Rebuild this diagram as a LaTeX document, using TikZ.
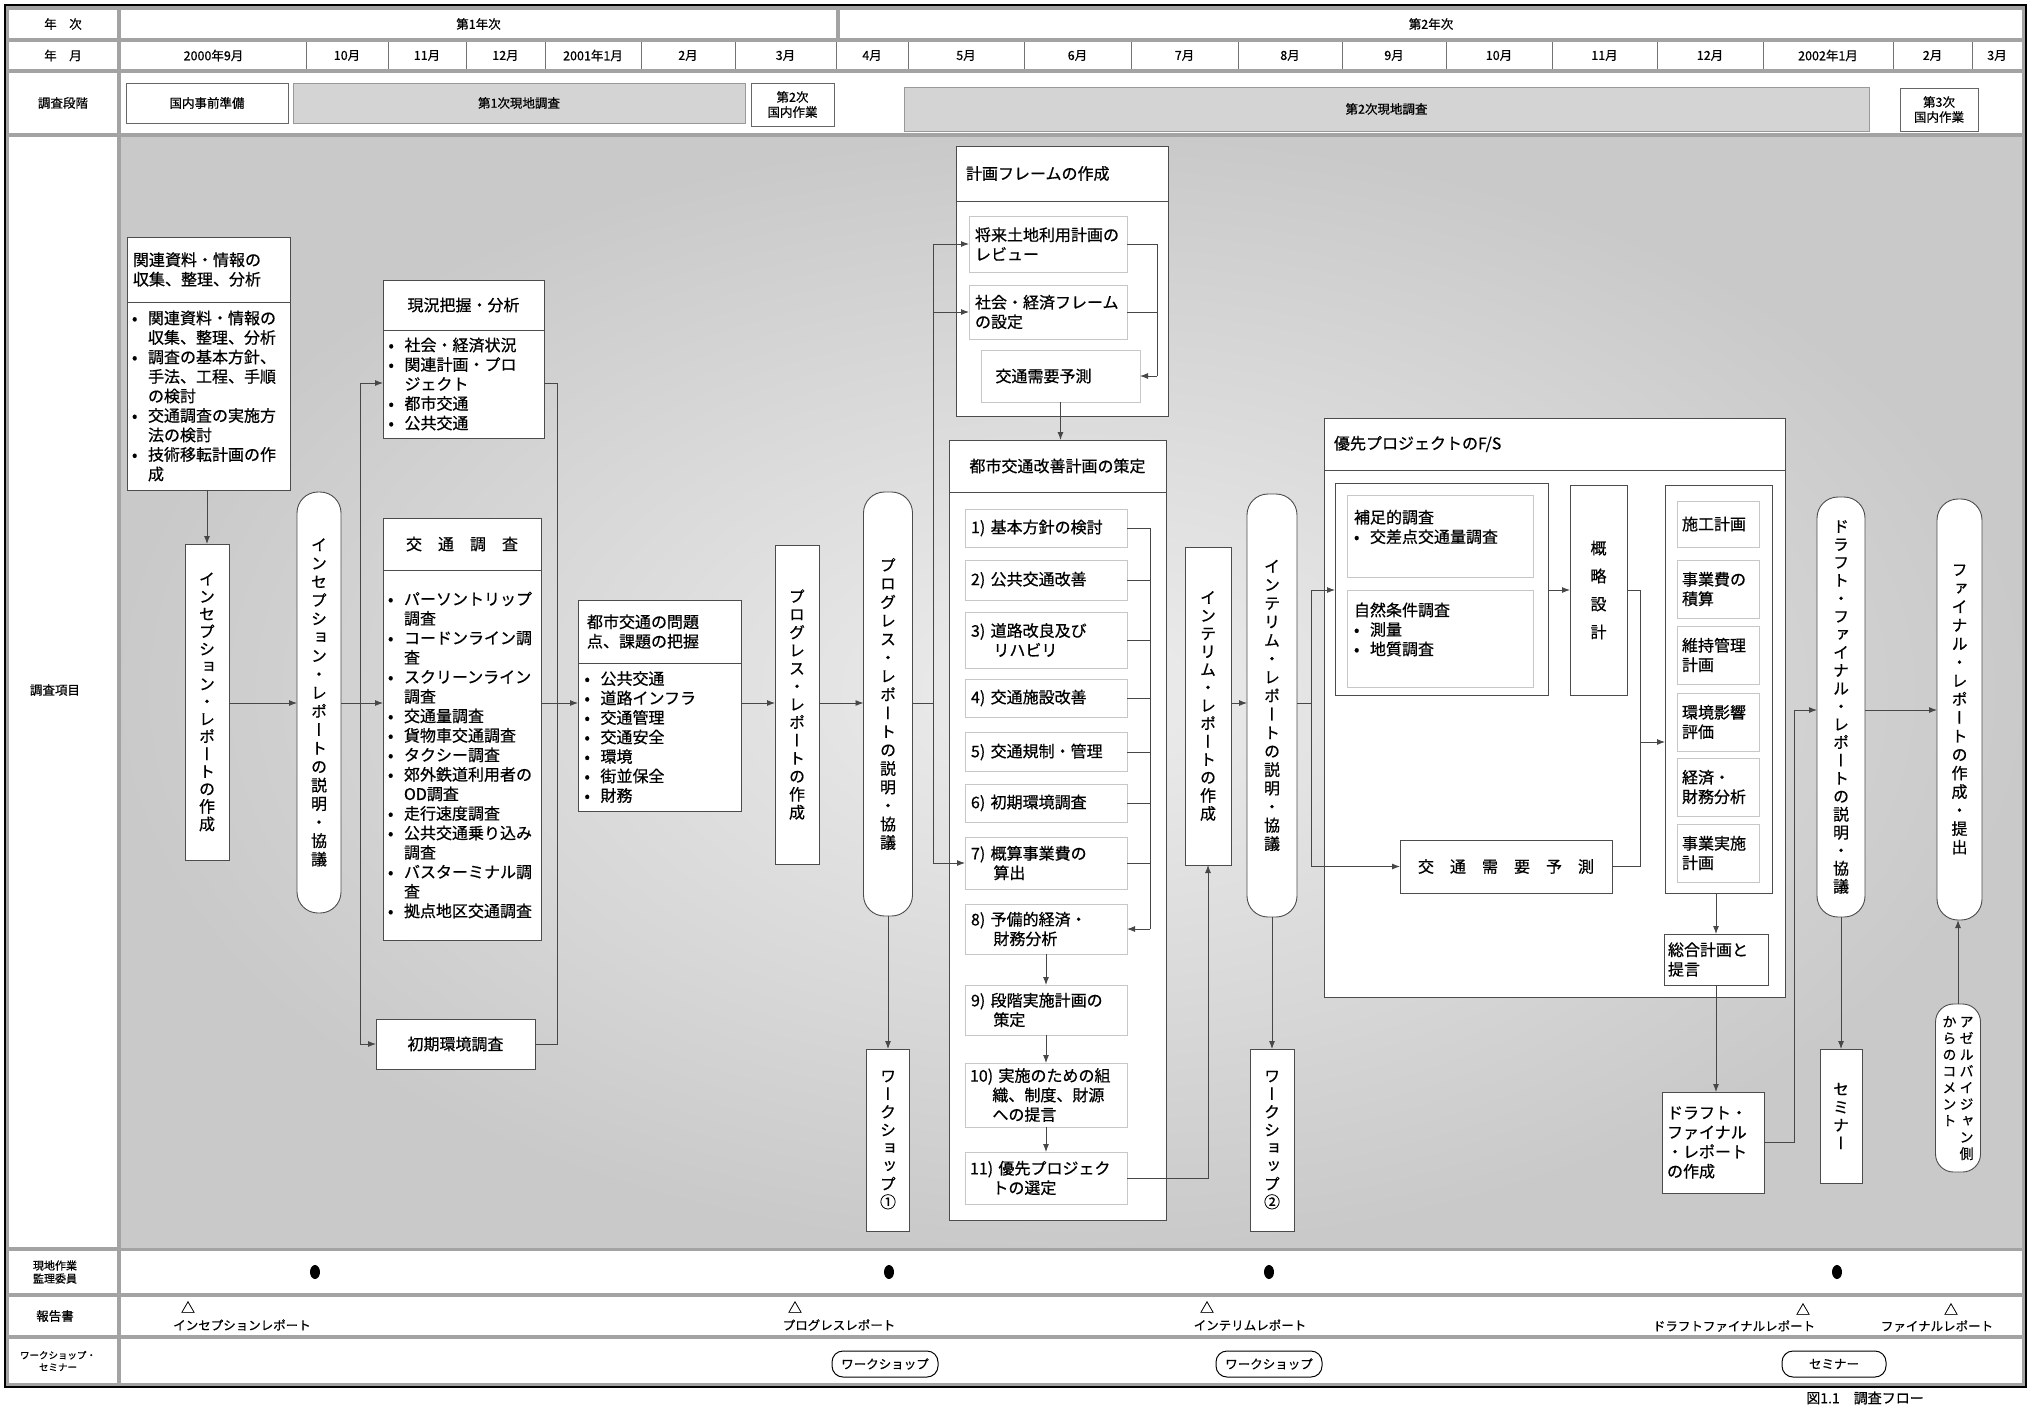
\documentclass[tikz,border=0pt]{standalone}
\usepackage{fontspec}
\setmainfont{Noto Sans CJK JP}[FakeBold=0.6]
\newfontfamily\vjp{Noto Sans CJK JP}[RawFeature=+vert,FakeBold=0.6]
\usetikzlibrary{arrows.meta,shapes.geometric}
\newcommand\fsz{\fontsize{16pt}{19.5pt}\selectfont}
\newcommand\fsm{\fontsize{12.5pt}{15pt}\selectfont}
\newcommand\fss{\fontsize{11pt}{13pt}\selectfont}
\newcommand\bl{\makebox[1em][l]{•}}
\newcommand\ind{\hspace*{1em}}
\newcommand\sind{\hspace*{1.4em}}
\makeatletter
\def\vt@aux#1{\ifx\relax#1\else\hbox to 1.15em{\hss#1\hss}\expandafter\vt@aux\fi}
\newcommand\vtxt[2][18pt]{\vtop{\vjp\baselineskip=#1\relax\lineskip=0pt\lineskiplimit=-100pt\vt@aux#2\relax}}
\makeatother
\begin{document}
\begin{tikzpicture}[x=1pt,y=-1pt,
  ln/.style={draw=black!72,line width=0.9pt},
  arr/.style={ln,-{Latex[length=8pt,width=6pt]}},
  bx/.style={draw=black!70,line width=0.9pt,fill=white,inner sep=0pt,outer sep=0pt,font=\fsz,align=left},
  sbx/.style={draw=black!22,line width=0.7pt,fill=white,inner sep=0pt,outer sep=0pt,font=\fsz,align=left},
  stad/.style={bx,rounded corners=21pt},
  lab/.style={inner sep=0pt,font=\fsm,align=center},
  phase/.style={draw=black!60,line width=0.8pt,fill=white,inner sep=0pt,font=\fsm,align=center},
  phaseg/.style={phase,draw=black!40,fill=black!17},
  dotn/.style={ellipse,fill=black,inner sep=0pt,minimum width=10pt,minimum height=14pt},
  oval/.style={draw=black,line width=1pt,rounded corners=11pt,fill=white,inner sep=0pt,minimum width=106pt,minimum height=26pt,font=\fsm}
]
\useasboundingbox (0,0) rectangle (2031,1409);
% ---------- frame and rows ----------
\fill[black!36] (5,5) rectangle (2026,1387);
\draw[black,line width=1.6pt] (5,5) rectangle (2026,1387);
\fill[white] (9,10) rectangle (117,38);
\fill[white] (9,42) rectangle (117,69);
\fill[white] (9,73) rectangle (117,133);
\fill[white] (9,137) rectangle (117,1247);
\fill[white] (9,1251) rectangle (117,1293);
\fill[white] (9,1297) rectangle (117,1335);
\fill[white] (9,1339) rectangle (117,1383);
\fill[white] (121,10) rectangle (836,38);
\fill[white] (840,10) rectangle (2022,38);
\fill[white] (121,42) rectangle (2022,69);
\fill[white] (121,73) rectangle (2022,133);
\shade[inner color=black!7,outer color=black!21] (121,137) rectangle (2022,1247);
\fill[white] (121,1251) rectangle (2022,1293);
\fill[white] (121,1297) rectangle (2022,1335);
\fill[white] (121,1339) rectangle (2022,1383);
\foreach \x in {306,388,466,545,641,735,836,908,1024,1131,1238,1342,1446,1552,1657,1763,1893,1972}
  \draw[black!55,line width=0.8pt] (\x,42) -- (\x,69);
% ---------- left labels ----------
\node[lab] (L1) at (63,24) {年　次};
\node[lab] (L2) at (63,55.5) {年　月};
\node[lab] (L3) at (63,103) {調査段階};
\node[lab] (L4) at (55,690) {調査項目};
\node[lab,font=\fss] (L5) at (55,1272) {現地作業\\監理委員};
\node[lab] (L6) at (55,1316) {報告書};
\node[lab,font=\fontsize{9.5pt}{12pt}\selectfont] (L7) at (58,1361) {ワークショップ・\\セミナー};
% ---------- header ----------
\node[lab] (y1) at (478.5,24) {第1年次};
\node[lab] (y2) at (1431,24) {第2年次};
\foreach \c/\t [count=\i] in {213.5/2000年9月,347/10月,427/11月,505.5/12月,593/2001年1月,688/2月,785.5/3月,872/4月,966/5月,1077.5/6月,1184.5/7月,1290/8月,1394/9月,1499/10月,1604.5/11月,1710/12月,1828/2002年1月,1932.5/2月,1997/3月}
  \node[lab] (m\i) at (\c,55.5) {\t};
\node[phase,minimum width=162pt,minimum height=40pt] (p1) at (207,103) {国内事前準備};
\node[phaseg,minimum width=452pt,minimum height=40pt] (p2) at (519,103) {第1次現地調査};
\node[phase,minimum width=83pt,minimum height=43pt] (p3) at (792.5,104.5) {第2次\\国内作業};
\node[phaseg,minimum width=965pt,minimum height=44pt] (p4) at (1386.5,109) {第2次現地調査};
\node[phase,minimum width=78pt,minimum height=43pt] (p5) at (1939,109.5) {第3次\\国内作業};
% ---------- main nodes ----------
\node[bx,minimum width=163pt,minimum height=65pt,text width=151pt] (b1h) at (208.5,269.5) {関連資料・情報の\\収集、整理、分析};
\node[bx,minimum width=163pt,minimum height=188pt,text width=153pt] (b1b) at (208.5,396) {\bl 関連資料・情報の\\\ind 収集、整理、分析\\\bl 調査の基本方針、\\\ind 手法、工程、手順\\\ind の検討\\\bl 交通調査の実施方\\\ind 法の検討\\\bl 技術移転計画の作\\\ind 成};
\node[bx,minimum width=44pt,minimum height=316pt] (b2) at (207,702) {\vtxt[17.5pt]{インセプション・レポートの作成}};
\node[stad,minimum width=44pt,minimum height=421pt] (b3) at (319,702.5) {\vtxt[18.5pt]{インセプション・レポートの説明・協議}};
\node[bx,minimum width=161pt,minimum height=50pt,align=center] (b4h) at (463.5,305) {現況把握・分析};
\node[bx,minimum width=161pt,minimum height=108pt,text width=150pt] (b4b) at (463.5,384) {\bl 社会・経済状況\\\bl 関連計画・プロ\\\ind ジェクト\\\bl 都市交通\\\bl 公共交通};
\node[bx,minimum width=158pt,minimum height=52pt,align=center] (b5h) at (462,544) {交　通　調　査};
\node[bx,minimum width=158pt,minimum height=370pt,text width=148pt] (b5b) at (462,755) {\bl パーソントリップ\\\ind 調査\\\bl コードンライン調\\\ind 査\\\bl スクリーンライン\\\ind 調査\\\bl 交通量調査\\\bl 貨物車交通調査\\\bl タクシー調査\\\bl 郊外鉄道利用者の\\\ind OD調査\\\bl 走行速度調査\\\bl 公共交通乗り込み\\\ind 調査\\\bl バスターミナル調\\\ind 査\\\bl 拠点地区交通調査};
\node[bx,minimum width=159pt,minimum height=50pt,align=center] (b6) at (455.5,1044) {初期環境調査};
\node[bx,minimum width=163pt,minimum height=63pt,text width=145pt] (b7h) at (659.5,631.5) {都市交通の問題\\点、課題の把握};
\node[bx,minimum width=163pt,minimum height=148pt,text width=150pt] (b7b) at (659.5,737) {\bl 公共交通\\\bl 道路インフラ\\\bl 交通管理\\\bl 交通安全\\\bl 環境\\\bl 街並保全\\\bl 財務};
\node[bx,minimum width=44pt,minimum height=319pt] (b8) at (797,704.5) {\vtxt[18pt]{プログレス・レポートの作成}};
\node[stad,minimum width=49pt,minimum height=424pt] (b9) at (888,704) {\vtxt[18.5pt]{プログレス・レポートの説明・協議}};
\node[bx,minimum width=43pt,minimum height=182pt] (b10) at (888,1140) {\vtxt[18pt]{ワークショップ①}};
% planning frame
\node[bx,minimum width=212pt,minimum height=55pt,text width=192pt] (b11h) at (1062,173.5) {計画フレームの作成};
\node[bx,minimum width=212pt,minimum height=215pt] (b11b) at (1062,308.5) {};
\node[sbx,minimum width=158pt,minimum height=56pt,text width=146pt] (fa) at (1048,244) {将来土地利用計画の\\レビュー};
\node[sbx,minimum width=158pt,minimum height=54pt,text width=146pt] (fb) at (1048,312) {社会・経済フレーム\\の設定};
\node[sbx,minimum width=159pt,minimum height=52pt,text width=130pt] (fc) at (1060.5,376) {交通需要予測};
% urban transport improvement plan
\node[bx,minimum width=217pt,minimum height=52pt,align=center] (b12h) at (1057.5,466) {都市交通改善計画の策定};
\node[bx,minimum width=217pt,minimum height=728pt] (b12b) at (1057.5,856) {};
\node[sbx,minimum width=162pt,minimum height=38pt,text width=150pt] (s1) at (1046,528) {1) 基本方針の検討};
\node[sbx,minimum width=162pt,minimum height=40pt,text width=150pt] (s2) at (1046,580) {2) 公共交通改善};
\node[sbx,minimum width=162pt,minimum height=56pt,text width=150pt] (s3) at (1046,640) {3) 道路改良及び\\\sind リハビリ};
\node[sbx,minimum width=162pt,minimum height=38pt,text width=150pt] (s4) at (1046,698) {4) 交通施設改善};
\node[sbx,minimum width=162pt,minimum height=39pt,text width=150pt] (s5) at (1046,752) {5) 交通規制・管理};
\node[sbx,minimum width=162pt,minimum height=38pt,text width=150pt] (s6) at (1046,803) {6) 初期環境調査};
\node[sbx,minimum width=162pt,minimum height=52pt,text width=150pt] (s7) at (1046,863) {7) 概算事業費の\\\sind 算出};
\node[sbx,minimum width=162pt,minimum height=50pt,text width=150pt] (s8) at (1046,929) {8) 予備的経済・\\\sind 財務分析};
\node[sbx,minimum width=162pt,minimum height=50pt,text width=150pt] (s9) at (1046,1010) {9) 段階実施計画の\\\sind 策定};
\node[sbx,minimum width=162pt,minimum height=64pt,text width=152pt] (s10) at (1046,1095) {10) 実施のための組\\\sind 織、制度、財源\\\sind への提言};
\node[sbx,minimum width=162pt,minimum height=52pt,text width=152pt] (s11) at (1046,1178) {11) 優先プロジェク\\\sind トの選定};
\node[bx,minimum width=46pt,minimum height=318pt] (b13) at (1208,706) {\vtxt[18pt]{インテリム・レポートの作成}};
\node[stad,minimum width=50pt,minimum height=423pt] (b14) at (1272,705.5) {\vtxt[18.5pt]{インテリム・レポートの説明・協議}};
\node[bx,minimum width=44pt,minimum height=182pt] (b15) at (1272,1140) {\vtxt[18pt]{ワークショップ②}};
% F/S
\node[bx,minimum width=461pt,minimum height=52pt,text width=441pt] (b16h) at (1554.5,444) {優先プロジェクトのF/S};
\node[bx,minimum width=461pt,minimum height=527pt] (b16b) at (1554.5,733.5) {};
\node[bx,minimum width=213pt,minimum height=212pt] (g1) at (1441.5,589) {};
\node[sbx,minimum width=186pt,minimum height=82pt,text width=172pt] (h1) at (1440,536) {補足的調査\\\bl 交差点交通量調査\\\mbox{}};
\node[sbx,minimum width=186pt,minimum height=97pt,text width=172pt] (h2) at (1440,638.5) {自然条件調査\\\bl 測量\\\bl 地質調査\\\mbox{}};
\node[bx,minimum width=57pt,minimum height=210pt] (gai) at (1598.5,590) {\vtxt[28pt]{概略設計}};
\node[bx,minimum width=212pt,minimum height=53pt,align=center] (ff) at (1506,866.5) {交　通　需　要　予　測};
\node[bx,minimum width=107pt,minimum height=408pt] (g2) at (1718.5,689) {};
\node[sbx,minimum width=82pt,minimum height=46pt,text width=72pt] (k1) at (1718,524) {施工計画};
\node[sbx,minimum width=82pt,minimum height=58pt,text width=72pt] (k2) at (1718,589) {事業費の\\積算};
\node[sbx,minimum width=82pt,minimum height=58pt,text width=72pt] (k3) at (1718,655) {維持管理\\計画};
\node[sbx,minimum width=82pt,minimum height=58pt,text width=72pt] (k4) at (1718,722) {環境影響\\評価};
\node[sbx,minimum width=82pt,minimum height=58pt,text width=72pt] (k5) at (1718,787) {経済・\\財務分析};
\node[sbx,minimum width=82pt,minimum height=58pt,text width=72pt] (k6) at (1718,853) {事業実施\\計画};
\node[bx,minimum width=104pt,minimum height=51pt,text width=96pt] (sog) at (1716,959.5) {総合計画と\\提言};
\node[bx,minimum width=102pt,minimum height=101pt,text width=92pt] (b17) at (1713,1142.5) {ドラフト・\\ファイナル\\・レポート\\の作成};
\node[stad,minimum width=48pt,minimum height=420pt] (b18) at (1841,707) {\vtxt[18pt]{ドラフト・ファイナル・レポートの説明・協議}};
\node[bx,minimum width=42pt,minimum height=134pt] (b19) at (1841,1116) {\vtxt[18pt]{セミナー}};
\node[stad,minimum width=45pt,minimum height=421pt] (b20) at (1959.5,709.5) {\vtxt[18.5pt]{ファイナル・レポートの作成・提出}};
\node[bx,rounded corners=18pt,minimum width=45pt,minimum height=168pt] (b21) at (1958,1088) {\fontsize{14pt}{16pt}\selectfont\hbox{\vtxt[16.5pt]{からのコメント}\hspace{1pt}\vtxt[16.5pt]{アゼルバイジャン側}}};
% ---------- coordinates for trunks ----------
\coordinate (yF) at (0,703);
\coordinate (y4) at (0,383);
\coordinate (y590) at (0,590);
\coordinate (y742) at (0,742);
\coordinate (y710) at (0,710);
\coordinate (tA) at (360,0);
\coordinate (tB) at (557,0);
\coordinate (tC) at (933,0);
\coordinate (tD) at (1157,0);
\coordinate (tE) at (1150,0);
\coordinate (tG) at (1311,0);
\coordinate (tH) at (1640,0);
\coordinate (tI) at (1794,0);
% ---------- connectors ----------
\draw[arr] (b1b.south -| b2.north) -- (b2.north);
\draw[arr] (b2.east |- yF) -- (b3.west |- yF);
\draw[arr] (b3.east |- yF) -- (b5b.west |- yF);
\draw[ln] (tA |- y4) -- (tA |- b6.west);
\draw[arr] (tA |- y4) -- (b4b.west |- y4);
\draw[arr] (tA |- b6.west) -- (b6.west);
\draw[ln] (b4b.east |- y4) -- (tB |- y4) -- (tB |- b6.east) -- (b6.east);
\draw[arr] (b5b.east |- yF) -- (b7b.west |- yF);
\draw[arr] (b7b.east |- yF) -- (b8.west |- yF);
\draw[arr] (b8.east |- yF) -- (b9.west |- yF);
\draw[arr] (b9.south) -- (b10.north);
\draw[ln] (b9.east |- yF) -- (tC |- yF);
\draw[ln] (tC |- fa.west) -- (tC |- s7.west);
\draw[arr] (tC |- fa.west) -- (fa.west);
\draw[arr] (tC |- fb.west) -- (fb.west);
\draw[arr] (tC |- s7.west) -- (s7.west);
\draw[ln] (fa.east) -- (tD |- fa.east) -- (tD |- fc.east);
\draw[ln] (fb.east) -- (tD |- fb.east);
\draw[arr] (tD |- fc.east) -- (fc.east);
\draw[arr] (fc.south) -- (fc.south |- b12h.north);
\foreach \n in {s1,s2,s3,s4,s5,s6,s7} \draw[ln] (\n.east) -- (tE |- \n.east);
\draw[ln] (tE |- s1.east) -- (tE |- s8.east);
\draw[arr] (tE |- s8.east) -- (s8.east);
\draw[arr] (s8.south) -- (s9.north);
\draw[arr] (s9.south) -- (s10.north);
\draw[arr] (s10.south) -- (s11.north);
\draw[arr] (s11.east) -- (b13.south |- s11.east) -- (b13.south);
\draw[arr] (b13.east |- yF) -- (b14.west |- yF);
\draw[arr] (b14.south) -- (b15.north);
\draw[ln] (b14.east |- yF) -- (tG |- yF);
\draw[ln] (tG |- y590) -- (tG |- ff.west);
\draw[arr] (tG |- y590) -- (g1.west |- y590);
\draw[arr] (tG |- ff.west) -- (ff.west);
\draw[arr] (g1.east |- y590) -- (gai.west |- y590);
\draw[ln] (gai.east |- y590) -- (tH |- y590) -- (tH |- ff.east) -- (ff.east);
\draw[arr] (tH |- y742) -- (g2.west |- y742);
\draw[arr] (g2.south -| sog.north) -- (sog.north);
\draw[arr] (sog.south) -- (sog.south |- b17.north);
\draw[arr] (b17.east) -- (tI |- b17.east) -- (tI |- y710) -- (b18.west |- y710);
\draw[arr] (b18.south) -- (b19.north);
\draw[arr] (b18.east |- y710) -- (b20.west |- y710);
\draw[arr] (b21.north) -- (b21.north |- b20.south);
% ---------- bottom rows ----------
\node[dotn] (d1) at (315,1272) {};
\node[dotn] (d2) at (889,1272) {};
\node[dotn] (d3) at (1269,1272) {};
\node[dotn] (d4) at (1837,1272) {};
\node[lab,font=\fontsize{14pt}{14pt}\selectfont] (t1) at (188,1307) {△};
\node[lab,font=\fontsize{14pt}{14pt}\selectfont] (t2) at (795,1307) {△};
\node[lab,font=\fontsize{14pt}{14pt}\selectfont] (t3) at (1207,1307) {△};
\node[lab,font=\fontsize{14pt}{14pt}\selectfont] (t4) at (1803,1309) {△};
\node[lab,font=\fontsize{14pt}{14pt}\selectfont] (t5) at (1951,1309) {△};
\node[lab] (r1) at (242,1325) {インセプションレポート};
\node[lab] (r2) at (839,1325) {プログレスレポート};
\node[lab] (r3) at (1250,1325) {インテリムレポート};
\node[lab] (r4) at (1734,1326) {ドラフトファイナルレポート};
\node[lab] (r5) at (1937,1326) {ファイナルレポート};
\node[oval] (w1) at (885,1364) {ワークショップ};
\node[oval] (w2) at (1269,1364) {ワークショップ};
\node[oval,minimum width=104pt] (w3) at (1834,1364) {セミナー};
\node[lab,font=\fontsize{14pt}{16pt}\selectfont,fill=white,inner sep=2pt] (cap) at (1865,1398) {図1.1　調査フロー};
\end{tikzpicture}
\end{document}
